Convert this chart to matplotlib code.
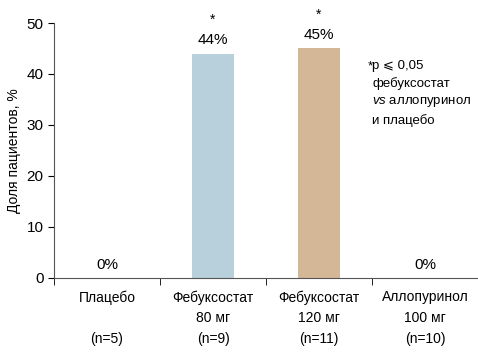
import matplotlib.pyplot as plt

plt.rcParams['font.family'] = ['Liberation Sans', 'DejaVu Sans']
plt.rcParams['mathtext.fontset'] = 'custom'
plt.rcParams['mathtext.it'] = 'Liberation Sans:italic'
plt.rcParams['mathtext.rm'] = 'Liberation Sans'

groups = ["Плацебо\n\n(n=5)", "Фебуксостат\n80 мг\n(n=9)",
          "Фебуксостат\n120 мг\n(n=11)", "Аллопуринол\n100 мг\n(n=10)"]
values = [0, 44, 45, 0]
labels = ["0%", "44%", "45%", "0%"]
stars = ["", "*", "*", ""]
colors = ["#B8D0DC", "#B8D0DC", "#D4B796", "#D4B796"]

fig = plt.figure(figsize=(4.78, 3.54), dpi=100)
ax = fig.add_axes([0.113, 0.215, 0.887, 0.72])

x = list(range(len(values)))
ax.bar(x, values, width=0.4, color=colors)
for i, v in enumerate(values):
    ax.text(i, v + 1.2, labels[i], ha="center", va="bottom", fontsize=11)
    if stars[i]:
        ax.text(i, v + 5.2, stars[i], ha="center", va="bottom", fontsize=10)

ax.text(2.46, 42.6, "*", fontsize=9.5, va="top")
ax.text(2.5, 42.8, "p \u2a7d 0,05\nфебуксостат\n$\\it{vs}$ аллопуринол\nи плацебо",
        fontsize=9.5, va="top", linespacing=1.55)

ax.set_xlim(-0.5, 3.5)
ax.set_ylim(0, 50)
ax.set_yticks(range(0, 51, 10))
ax.set_xticks(x)
ax.set_xticklabels(groups, fontsize=10, linespacing=1.6)
ax.set_xticks([-0.5, 0.5, 1.5, 2.5], minor=True)
ax.tick_params(axis="x", which="major", length=0, pad=9)
ax.tick_params(axis="x", which="minor", length=5, direction="out")
ax.tick_params(axis="y", labelsize=11, length=4)
ax.set_ylabel("Доля пациентов, %", fontsize=10)
ax.spines["top"].set_visible(False)
ax.spines["right"].set_visible(False)
ax.spines["left"].set_color("#555555")
ax.spines["bottom"].set_color("#555555")

fig.savefig("out.png", dpi=100)
